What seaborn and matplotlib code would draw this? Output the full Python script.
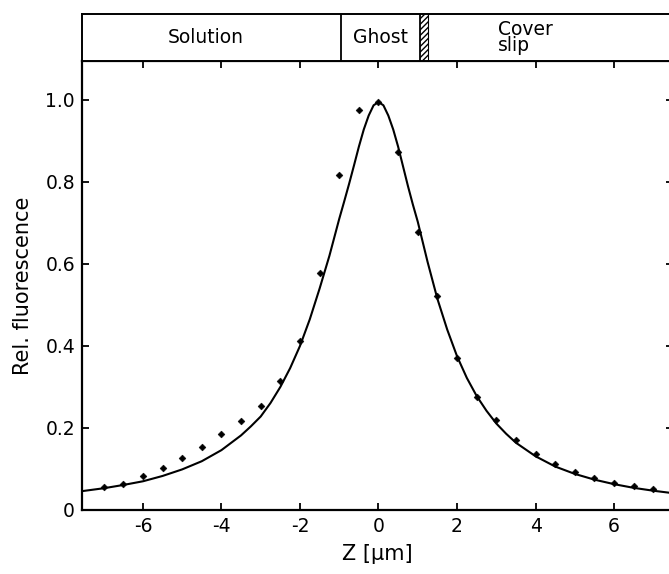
import matplotlib
matplotlib.use("Agg")
import matplotlib.pyplot as plt
import seaborn as sns
import pandas as pd

# measured fluorescence (diamonds)
z_points = [-7.0, -6.5, -6.0, -5.5, -5.0, -4.5, -4.0, -3.5, -3.0, -2.5, -2.0, -1.5, -1.0, -0.5,
            0.0, 0.5, 1.0, 1.5, 2.0, 2.5, 3.0, 3.5, 4.0, 4.5, 5.0, 5.5, 6.0, 6.5, 7.0]
fluor_points = [0.056, 0.064, 0.083, 0.102, 0.127, 0.154, 0.185, 0.216, 0.254, 0.314, 0.413, 0.579,
                0.817, 0.976, 0.996, 0.872, 0.679, 0.523, 0.370, 0.276, 0.220, 0.171, 0.137,
                0.112, 0.093, 0.079, 0.067, 0.059, 0.051]

# fitted curve
z_curve = [-7.55, -7.0, -6.5, -6.0, -5.5, -5.0, -4.5, -4.0, -3.5, -3.25, -3.0, -2.75, -2.5, -2.25,
           -2.0, -1.75, -1.5, -1.25, -1.0, -0.875, -0.75, -0.625, -0.5, -0.375, -0.25, -0.125,
           0.0, 0.125, 0.25, 0.375, 0.5, 0.625, 0.75, 0.875, 1.0, 1.25, 1.5, 1.75, 2.0, 2.25,
           2.5, 2.75, 3.0, 3.25, 3.5, 4.0, 4.5, 5.0, 5.5, 6.0, 6.5, 7.0, 7.5]
fluor_curve = [0.046, 0.053, 0.061, 0.070, 0.083, 0.099, 0.119, 0.146, 0.182, 0.204, 0.228, 0.261,
               0.300, 0.346, 0.400, 0.465, 0.540, 0.620, 0.710, 0.752, 0.795, 0.840, 0.886, 0.928,
               0.962, 0.987, 0.995, 0.987, 0.962, 0.928, 0.886, 0.838, 0.790, 0.745, 0.703,
               0.605, 0.515, 0.440, 0.375, 0.322, 0.278, 0.242, 0.211, 0.186, 0.164, 0.131,
               0.106, 0.088, 0.074, 0.063, 0.054, 0.047, 0.041]

x_ticks = [-6, -4, -2, 0, 2, 4, 6]
x_tick_labels = ["-6", "-4", "-2", "0", "2", "4", "6"]
y_ticks = [0, 0.2, 0.4, 0.6, 0.8, 1.0]
y_tick_labels = ["0", "0.2", "0.4", "0.6", "0.8", "1.0"]

# layers above the plot
layer_names = ["Solution", "Ghost", "Cover\nslip"]
layer_label_z = [-4.4, 0.05, 3.05]
layer_bounds = [-0.95, 1.05]
glass_surface = [1.05, 1.25]

xlim = (-7.55, 7.5)
ylim = (0, 1.095)

sns.set_style("ticks")
plt.rcParams["font.family"] = ["DejaVu Sans"]
plt.rcParams.update({"text.color": "black", "axes.labelcolor": "black",
                     "xtick.color": "black", "ytick.color": "black",
                     "hatch.linewidth": 1.0})

fig = plt.figure(figsize=(6.69, 5.74), dpi=100)
ax = fig.add_axes([0.1226, 0.1115, 0.8834, 0.7822])
box = fig.add_axes([0.1226, 0.8937, 0.8834, 0.0819])

df_pts = pd.DataFrame({"z": z_points, "f": fluor_points})
df_fit = pd.DataFrame({"z": z_curve, "f": fluor_curve})

sns.lineplot(data=df_fit, x="z", y="f", ax=ax, color="black", linewidth=1.5, errorbar=None)
sns.scatterplot(data=df_pts, x="z", y="f", ax=ax, marker="D", s=12, color="black",
                edgecolor="black", linewidth=0.4, zorder=3)

ax.set_xlim(xlim)
ax.set_ylim(ylim)
ax.set_xticks(x_ticks)
ax.set_xticklabels(x_tick_labels)
ax.set_yticks(y_ticks)
ax.set_yticklabels(y_tick_labels)
ax.tick_params(direction="in", length=5, width=1.3, top=True, right=True,
               labelsize=13.5, pad=5)
for s in ax.spines.values():
    s.set_linewidth(1.6)
    s.set_color("black")
ax.set_xlabel("Z [µm]", fontsize=15, labelpad=6)
ax.set_ylabel("Rel. fluorescence", fontsize=15, labelpad=9)

# layer box
box.set_xlim(xlim)
box.set_ylim(0, 1)
box.set_xticks([])
box.set_yticks([])
for s in box.spines.values():
    s.set_linewidth(1.4)
    s.set_color("black")
for b in layer_bounds:
    box.axvline(b, color="black", linewidth=1.3)
box.axvspan(glass_surface[0], glass_surface[1], facecolor="white", edgecolor="black",
            linewidth=0, hatch="//////")
box.axvline(glass_surface[1], color="black", linewidth=0.8)
for name, zx in zip(layer_names, layer_label_z):
    ha = "left" if "\n" in name else "center"
    box.text(zx, 0.5, name, ha=ha, va="center", fontsize=13.5, linespacing=0.85)

fig.savefig("out.png", dpi=100)
plt.close(fig)
